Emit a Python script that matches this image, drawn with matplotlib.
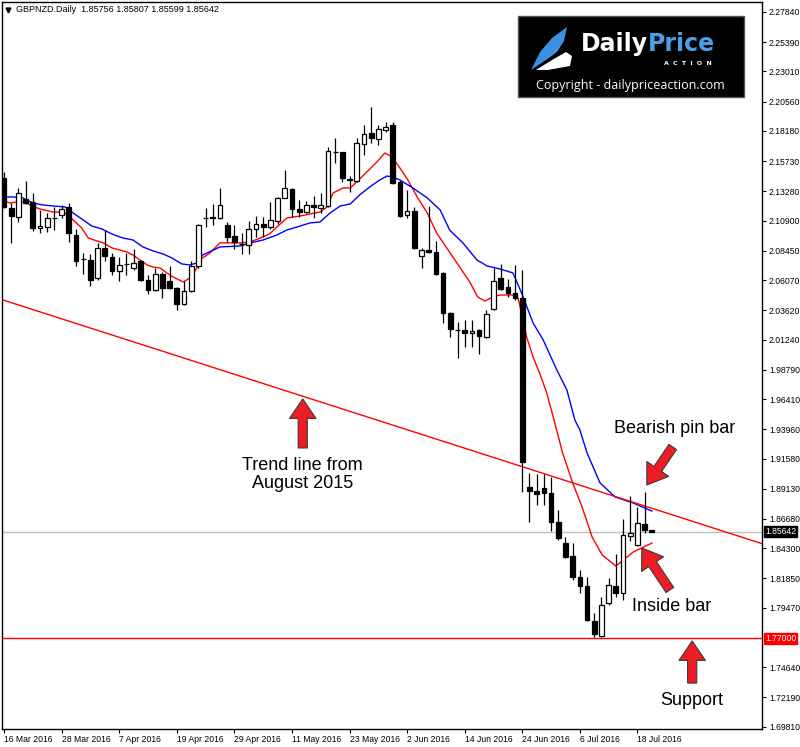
import matplotlib
matplotlib.use("Agg")
import matplotlib.pyplot as plt
from matplotlib.patches import Rectangle, Polygon

# GBPNZD daily bars, 16 Mar 2016 - 20 Jul 2016
opens = [2.1436, 2.1192, 2.1119, 2.1265, 2.1241, 2.1030, 2.1038, 2.1108, 2.1135, 2.1200,
         2.0973, 2.0775, 2.0770, 2.0624, 2.0867, 2.0794, 2.0681, 2.0735, 2.0705, 2.0762,
         2.0608, 2.0527, 2.0657, 2.0600, 2.0543, 2.0413, 2.0519, 2.0721, 2.1108, 2.1114,
         2.1111, 2.1055, 2.0965, 2.0898, 2.0892, 2.1022, 2.1063, 2.1038, 2.1087, 2.1274,
         2.1347, 2.1184, 2.1160, 2.1216, 2.1192, 2.1208, 2.1650, 2.1647, 2.1420, 2.1412,
         2.1712, 2.1801, 2.1753, 2.1826, 2.1866, 2.1403, 2.1135, 2.1168, 2.0802, 2.0851,
         2.0835, 2.0665, 2.0340, 2.0204, 2.0202, 2.0178, 2.0202, 2.0145, 2.0372, 2.0624,
         2.0551, 2.0503, 2.0462, 1.8927, 1.8894, 1.8919, 1.8878, 1.8643, 1.8472, 1.8366,
         1.8196, 1.8123, 1.7839, 1.7717, 1.7985, 1.8123, 1.8066, 1.8529, 1.8456, 1.8627,
         1.85756]
highs = [2.1485, 2.1233, 2.1355, 2.1412, 2.1315, 2.1176, 2.1152, 2.1200, 2.1216, 2.1233,
         2.1022, 2.0827, 2.0819, 2.0909, 2.1014, 2.0827, 2.0794, 2.0827, 2.0859, 2.0770,
         2.0648, 2.0705, 2.0673, 2.0721, 2.0551, 2.0600, 2.0762, 2.1063, 2.1192, 2.1225,
         2.1355, 2.1079, 2.1055, 2.0990, 2.1087, 2.1127, 2.1119, 2.1241, 2.1282, 2.1501,
         2.1355, 2.1257, 2.1249, 2.1290, 2.1315, 2.1688, 2.1761, 2.1650, 2.1452, 2.1761,
         2.1866, 2.2013, 2.1866, 2.1891, 2.1891, 2.1420, 2.1339, 2.1200, 2.0867, 2.1208,
         2.0925, 2.0670, 2.0345, 2.0267, 2.0283, 2.0283, 2.0210, 2.0364, 2.0705, 2.0737,
         2.0616, 2.0729, 2.0689, 1.9041, 1.9033, 1.9033, 1.9008, 1.8740, 1.8521, 1.8472,
         1.8253, 1.8196, 1.7904, 1.8034, 1.8188, 1.8383, 1.8667, 1.8854, 1.8765, 1.8886,
         1.85807]
lows = [2.1195, 2.0909, 2.1079, 2.1228, 2.1006, 2.0990, 2.0998, 2.1014, 2.1111, 2.0917,
        2.0721, 2.0657, 2.0559, 2.0608, 2.0762, 2.0648, 2.0600, 2.0648, 2.0689, 2.0600,
        2.0494, 2.0519, 2.0462, 2.0535, 2.0364, 2.0405, 2.0511, 2.0705, 2.1038, 2.1055,
        2.1105, 2.0917, 2.0859, 2.0819, 2.0819, 2.0957, 2.0957, 2.1022, 2.1063, 2.1270,
        2.1119, 2.1119, 2.1152, 2.1111, 2.1152, 2.1200, 2.1558, 2.1403, 2.1323, 2.1403,
        2.1623, 2.1720, 2.1704, 2.1810, 2.1390, 2.1119, 2.1111, 2.0859, 2.0705, 2.0830,
        2.0652, 2.0259, 2.0145, 1.9974, 2.0064, 2.0064, 2.0007, 2.0137, 2.0368, 2.0527,
        2.0470, 2.0445, 1.8886, 1.8643, 1.8781, 1.8781, 1.8570, 1.8497, 1.8350, 1.8172,
        1.8066, 1.7839, 1.7709, 1.7705, 1.7969, 1.8034, 1.8009, 1.8489, 1.8448, 1.8554,
        1.85599]
closes = [2.1200, 2.1127, 2.1315, 2.1233, 2.1030, 2.1046, 2.1111, 2.1114, 2.1184, 2.0990,
          2.0762, 2.0780, 2.0608, 2.0867, 2.0802, 2.0681, 2.0729, 2.0739, 2.0746, 2.0608,
          2.0527, 2.0657, 2.0543, 2.0543, 2.0413, 2.0519, 2.0721, 2.1055, 2.1114, 2.1122,
          2.1216, 2.0957, 2.0917, 2.0902, 2.1022, 2.1063, 2.1038, 2.1095, 2.1274, 2.1355,
          2.1184, 2.1160, 2.1216, 2.1200, 2.1216, 2.1655, 2.1644, 2.1436, 2.1424, 2.1720,
          2.1793, 2.1761, 2.1834, 2.1850, 2.1395, 2.1127, 2.1168, 2.0867, 2.0851, 2.0835,
          2.0657, 2.0340, 2.0210, 2.0200, 2.0178, 2.0194, 2.0153, 2.0332, 2.0600, 2.0535,
          2.0503, 2.0462, 1.9130, 1.8894, 1.8870, 1.8878, 1.8643, 1.8513, 1.8358, 1.8196,
          1.8123, 1.7847, 1.7733, 1.7969, 1.8131, 1.8066, 1.8537, 1.8554, 1.8635, 1.8578,
          1.85642]

date_labels = ["16 Mar 2016", "28 Mar 2016", "7 Apr 2016", "19 Apr 2016", "29 Apr 2016",
               "11 May 2016", "23 May 2016", "2 Jun 2016", "14 Jun 2016", "24 Jun 2016",
               "6 Jul 2016", "18 Jul 2016"]
date_bars = [0, 8, 16, 24, 32, 40, 48, 56, 64, 72, 80, 88]

# moving averages (bar position, price)
fast_x = [-0.3, 0.8, 1.8, 2.9, 3.9, 5.0, 6.8, 8.1, 8.9, 9.9, 10.8, 11.7, 12.9, 13.8, 15.0,
          16.1, 17.1, 17.9, 18.9, 19.9, 20.7, 21.7, 22.6, 23.5, 24.9, 25.8, 26.8, 27.2,
          28.6, 30.0, 31.4, 32.8, 34.2, 35.6, 36.9, 37.9, 39.3, 41.1, 42.5, 43.9, 44.9,
          45.7, 47.1, 48.1, 49.0, 50.4, 51.8, 52.9, 53.9, 55.0, 56.1, 57.4, 58.8, 60.1,
          61.7, 63.3, 64.7, 65.8, 66.8, 67.9, 68.9, 71.0, 71.4, 71.9, 72.6, 73.5, 74.4,
          75.4, 76.3, 77.6, 79.0, 80.3, 81.7, 83.1, 85.0, 87.4, 90.0]
fast_y = [2.1257, 2.1233, 2.1241, 2.1241, 2.1208, 2.1184, 2.1160, 2.1160, 2.1136, 2.1079,
          2.1030, 2.0949, 2.0925, 2.0909, 2.0868, 2.0851, 2.0835, 2.0811, 2.0770, 2.0729,
          2.0713, 2.0705, 2.0665, 2.0632, 2.0592, 2.0624, 2.0705, 2.0770, 2.0827, 2.0909,
          2.0909, 2.0909, 2.0917, 2.0949, 2.0982, 2.1038, 2.1111, 2.1127, 2.1144, 2.1160,
          2.1201, 2.1314, 2.1355, 2.1355, 2.1404, 2.1485, 2.1566, 2.1639, 2.1607, 2.1517,
          2.1420, 2.1282, 2.1152, 2.0989, 2.0851, 2.0713, 2.0592, 2.0470, 2.0437, 2.0470,
          2.0486, 2.0486, 2.0462, 2.0340, 2.0145, 1.9982, 1.9853, 1.9690, 1.9495, 1.9203,
          1.8960, 1.8765, 1.8521, 1.8375, 1.8285, 1.8399, 1.8472]
slow_x = [-0.3, 1.25, 2.6, 4.0, 5.4, 6.8, 8.5, 9.6, 11.0, 12.2, 13.6, 15.0, 16.5, 17.9,
          19.3, 20.7, 22.1, 23.3, 24.7, 25.8, 26.8, 27.6, 30.0, 32.8, 34.2, 36.0, 37.9,
          39.3, 40.7, 42.5, 43.9, 45.3, 46.7, 48.1, 49.4, 50.8, 52.2, 53.2, 54.0, 55.0,
          56.8, 58.8, 60.6, 61.9, 63.75, 65.7, 67.1, 68.9, 70.7, 71.9, 73.5, 74.9, 76.8,
          78.2, 79.3, 80.0, 81.0, 82.8, 84.9, 87.4, 90.0]
slow_y = [2.1282, 2.1282, 2.1274, 2.1233, 2.1217, 2.1209, 2.1201, 2.1152, 2.1095, 2.1046,
          2.1022, 2.0981, 2.0949, 2.0933, 2.0876, 2.0844, 2.0819, 2.0787, 2.0738, 2.0730,
          2.0746, 2.0811, 2.0876, 2.0884, 2.0909, 2.0933, 2.0973, 2.1014, 2.1038, 2.1071,
          2.1079, 2.1152, 2.1209, 2.1225, 2.1298, 2.1363, 2.1420, 2.1452, 2.1444, 2.1420,
          2.1355, 2.1274, 2.1176, 2.1014, 2.0909, 2.0770, 2.0722, 2.0697, 2.0665, 2.0502,
          2.0259, 2.0121, 1.9877, 1.9714, 1.9471, 1.9390, 1.9203, 1.8960, 1.8846, 1.8797,
          1.8732]

trend_x = [-0.28, 105.3]
trend_y = [2.0448, 1.8467]
support = 1.77000
last_price = 1.85642

price_ticks = [2.27840, 2.25390, 2.23010, 2.20560, 2.18180, 2.15730, 2.13280, 2.10900,
               2.08450, 2.06070, 2.03620, 2.01240, 1.98790, 1.96410, 1.93960, 1.91580,
               1.89130, 1.86680, 1.84300, 1.81850, 1.79470, 1.74640, 1.72190, 1.69810]

small = dict(family="Liberation Sans", fontsize=6.2)
big = dict(family="Liberation Sans", fontsize=13)

fig = plt.figure(figsize=(8, 7.47), dpi=100)
ax = fig.add_axes([2 / 800, 18 / 747, 760 / 800, 727 / 747])
ax.set_xlim(-0.28, 105.3)
ax.set_ylim(1.6962, 2.2865)

# candles
for i, (o, h, l, c) in enumerate(zip(opens, highs, lows, closes)):
    ax.vlines(i, l, h, color="black", lw=0.9, zorder=3)
    body = max(abs(c - o), 0.00006)
    ax.add_patch(Rectangle((i - 0.33, min(o, c)), 0.66, body,
                           facecolor="white" if c >= o else "black",
                           edgecolor="black", lw=0.9, zorder=4))

ax.plot(fast_x, fast_y, color="red", lw=1, zorder=2)
ax.plot(slow_x, slow_y, color="blue", lw=1, zorder=2)
ax.plot(trend_x, trend_y, color="red", lw=1, zorder=2)
ax.axhline(support, color="red", lw=1, zorder=2)
ax.axhline(last_price, color="#c0c0c0", lw=1, zorder=1)

# axes look like the MT4 window
for s in ax.spines.values():
    s.set_color("black")
    s.set_linewidth(1)
ax.yaxis.tick_right()
ax.set_yticks(price_ticks)
ax.set_yticklabels(["%.5f" % v for v in price_ticks], **small)
ax.tick_params(axis="y", length=3, width=0.8, pad=2)
ax.set_xticks(date_bars)
ax.set_xticklabels(date_labels, ha="left", **small)
ax.tick_params(axis="x", length=3, width=0.8, pad=1)

ytr = ax.get_yaxis_transform()
ax.text(1.004, last_price, "%.5f" % last_price, transform=ytr, ha="left", va="center",
        color="white", clip_on=False, zorder=6,
        bbox=dict(boxstyle="square,pad=0.12", fc="black", ec="black"), **small)
ax.text(1.004, support, "%.5f" % support, transform=ytr, ha="left", va="center",
        color="white", clip_on=False, zorder=6,
        bbox=dict(boxstyle="square,pad=0.12", fc="#ff0000", ec="#ff0000"), **small)

# header
ax.plot([0.008], [0.989], marker="v", ms=3.5, color="black", transform=ax.transAxes)
ax.text(0.018, 0.989, "GBPNZD.Daily  1.85756 1.85807 1.85599 1.85642",
        transform=ax.transAxes, va="center", ha="left",
        family="Liberation Sans", fontsize=6.5)

# watermark box
ax.add_patch(Rectangle((0.6789, 0.8693), 0.2974, 0.1114, transform=ax.transAxes,
                       facecolor="black", edgecolor="#555555", lw=1, zorder=7))
ax.add_patch(Polygon([(0.6961, 0.9065), (0.7079, 0.9312), (0.7237, 0.9505), (0.7434, 0.9656),
                      (0.7395, 0.9464), (0.7303, 0.9312), (0.7158, 0.9202)],
                     closed=True, transform=ax.transAxes, facecolor="#3d8fe0",
                     edgecolor="none", zorder=8))
ax.add_patch(Polygon([(0.7026, 0.9065), (0.7237, 0.9202), (0.7421, 0.9312), (0.7500, 0.9257),
                      (0.7474, 0.9120), (0.7184, 0.9065)],
                     closed=True, transform=ax.transAxes, facecolor="white",
                     edgecolor="none", zorder=8))
ax.text(0.850, 0.942, "Daily", transform=ax.transAxes, ha="right", va="center",
        color="white", family="DejaVu Sans", fontsize=17, fontweight="bold", zorder=8)
ax.text(0.850, 0.942, "Price", transform=ax.transAxes, ha="left", va="center",
        color="#4a9fe8", family="DejaVu Sans", fontsize=17, fontweight="bold", zorder=8)
ax.text(0.9026, 0.9160, "A  C  T  I  O  N", transform=ax.transAxes, ha="center",
        va="center", color="white", family="DejaVu Sans", fontsize=4.5,
        fontweight="bold", zorder=8)
ax.text(0.8263, 0.8858, "Copyright - dailypriceaction.com", transform=ax.transAxes,
        ha="center", va="center", color="white", family="Open Sans", fontsize=9, zorder=8)

# annotations
arrow = dict(arrowstyle="simple,head_width=0.95,head_length=0.7,tail_width=0.33",
             mutation_scale=20, fc="#ee1c24", ec="#3a3a3a", lw=0.8,
             shrinkA=0, shrinkB=0)
ax.annotate("", xy=(41.5, 1.9642), xytext=(41.5, 1.9244), arrowprops=arrow, zorder=6)
ax.text(41.5, 1.9028, "Trend line from\nAugust 2015", ha="center", va="center",
        linespacing=1.1, **big)
ax.annotate("", xy=(89.3, 1.8943), xytext=(92.9, 1.9252), arrowprops=arrow, zorder=6)
ax.text(93.2, 1.9406, "Bearish pin bar", ha="center", va="center", **big)
ax.annotate("", xy=(88.6, 1.8432), xytext=(92.5, 1.8091), arrowprops=arrow, zorder=6)
ax.text(92.8, 1.7953, "Inside bar", ha="center", va="center", **big)
ax.annotate("", xy=(95.6, 1.7677), xytext=(95.6, 1.7335), arrowprops=arrow, zorder=6)
ax.text(95.6, 1.7197, "Support", ha="center", va="center", **big)

fig.savefig("out.png", dpi=100, facecolor="white")
